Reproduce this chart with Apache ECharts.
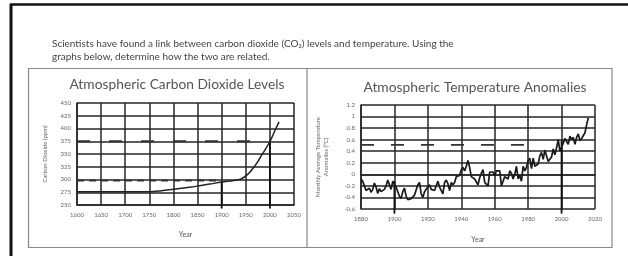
<!DOCTYPE html>
<html>
<head>
<meta charset="utf-8">
<script src="https://cdn.jsdelivr.net/npm/echarts@6/dist/echarts.min.js"></script>
<style>html,body{margin:0;padding:0;background:#fff;}#c{width:628px;height:256px;}</style>
</head>
<body>
<div id="c"></div>
<script>
// ---- Data ----
const introLines = [
  'Scientists have found a link between carbon dioxide (CO\u2082) levels and temperature. Using the',
  'graphs below, determine how the two are related.'
];
const co2Title = 'Atmospheric Carbon Dioxide Levels';
const tempTitle = 'Atmospheric Temperature Anomalies';
const co2YName = 'Carbon Dioxide (ppm)';
const tempYName = 'Monthly Average Temperature\nAnomalies (\u00B0C)';
const xName = 'Year';

const co2Years  = [1600, 1650, 1700, 1750, 1775, 1800, 1825, 1850, 1875, 1900, 1925, 1940, 1954, 1965, 1975, 1981, 1990, 2002, 2010, 2019];
const co2Values = [ 276,  276,  276,  276,  278,  281,  284,  287,  291,  295,  298,  301,  310,  322,  335,  345,  358,  378,  395,  413];
const co2Axis = { min: 1600, max: 2050, step: 50, ymin: 250, ymax: 450, ystep: 25 };
const co2UpperGuide = [[1600, 375], [2000, 375]];
const co2LowerGuide = [[1600, 298], [1900, 298]];
const co2Marker1900 = [[1900, 296], [1900, 243]];
const co2Marker2000 = [[2000, 376], [2000, 243]];

const tempStartYear = 1880;
const tempValues = [
  -0.08,-0.12,-0.20,-0.28,-0.30,-0.24,-0.31,-0.26,-0.15,-0.22,
  -0.33,-0.25,-0.30,-0.28,-0.26,-0.20,-0.10,-0.13,-0.26,-0.12,
  -0.15,-0.22,-0.30,-0.38,-0.42,-0.30,-0.24,-0.38,-0.44,-0.46,
  -0.42,-0.44,-0.36,-0.34,-0.18,-0.14,-0.34,-0.40,-0.30,-0.26,
  -0.28,-0.18,-0.26,-0.24,-0.28,-0.20,-0.12,-0.22,-0.20,-0.34,
  -0.14,-0.10,-0.16,-0.28,-0.14,-0.18,-0.14,-0.04,-0.02,-0.02,
   0.08, 0.12, 0.06, 0.14, 0.24, 0.12,-0.04,-0.06,-0.08,-0.10,
  -0.18,-0.06, 0.02, 0.08,-0.14,-0.16,-0.20, 0.04, 0.06, 0.04,
  -0.02, 0.06, 0.04, 0.06,-0.20,-0.12,-0.04,-0.02,-0.08, 0.06,
   0.02,-0.08, 0.00, 0.14,-0.08,-0.02,-0.12, 0.14, 0.06, 0.12,
   0.24, 0.28, 0.10, 0.28, 0.14, 0.12, 0.18, 0.32, 0.38, 0.26,
   0.42, 0.40, 0.22, 0.24, 0.30, 0.44, 0.34, 0.46, 0.60, 0.40,
   0.42, 0.54, 0.62, 0.60, 0.52, 0.66, 0.60, 0.64, 0.52, 0.64,
   0.70, 0.58, 0.62, 0.64, 0.72, 0.86, 0.98
];
const tempAxis = { min: 1880, max: 2020, step: 20, ymin: -0.6, ymax: 1.2, ystep: 0.2 };
const tempGuide = [[1880, 0.51], [1983, 0.51]];
const tempMarker1900 = [[1900, -0.12], [1900, -0.68]];
const tempMarker2000 = [[2000, 0.58], [2000, -0.68]];

// ---- Build ----
const tempData = tempValues.map((v, i) => [tempStartYear + i, v]);
const co2Data = co2Years.map((y, i) => [y, co2Values[i]]);

const FONT = 'Lato';
const GRID = '#262626';
const TXT = '#555';

function xAxisCfg(gi, ax) {
  return {
    type: 'value', gridIndex: gi, min: ax.min, max: ax.max, interval: ax.step,
    name: xName, nameLocation: 'middle', nameGap: gi === 0 ? 26 : 27,
    nameTextStyle: { fontFamily: FONT, fontSize: 7, color: TXT },
    axisLine: { show: true, lineStyle: { color: GRID, width: 1.5 } },
    axisTick: { show: false },
    splitLine: { show: true, lineStyle: { color: GRID, width: 1.5 } },
    axisLabel: { fontFamily: FONT, fontSize: 6, color: '#666', margin: 7, formatter: v => String(v) }
  };
}
function yAxisCfg(gi, ax, name, gap, fmt) {
  return {
    type: 'value', gridIndex: gi, min: ax.ymin, max: ax.ymax, interval: ax.ystep,
    name: name, nameLocation: 'middle', nameGap: gap, nameRotate: 90,
    nameTextStyle: { fontFamily: FONT, fontSize: 6, color: '#666', lineHeight: 8 },
    axisLine: { show: true, lineStyle: { color: GRID, width: 1.5 } },
    axisTick: { show: false },
    splitLine: { show: true, lineStyle: { color: GRID, width: 1.5 } },
    axisLabel: { fontFamily: FONT, fontSize: 6, color: '#666', margin: 6, formatter: fmt }
  };
}
function guide(xi, data, color, width, dash, z) {
  return {
    type: 'line', xAxisIndex: xi, yAxisIndex: xi, data: data, symbol: 'none', silent: true,
    clip: false, z: z || 3, animation: false,
    lineStyle: { color: color, width: width, type: dash || 'solid' }
  };
}

const chart = echarts.init(document.getElementById('c'), null, { renderer: 'canvas' });
chart.setOption({
  animation: false,
  backgroundColor: '#fff',
  title: [
    { text: introLines.join('\n'), left: 47, top: 32,
      textStyle: { fontFamily: FONT, fontSize: 10, fontWeight: 'normal', color: '#444', lineHeight: 13 } },
    { text: co2Title, left: 172, top: 73, textAlign: 'center',
      textStyle: { fontFamily: FONT, fontSize: 13.8, fontWeight: 'normal', color: '#555' } },
    { text: tempTitle, left: 470, top: 76, textAlign: 'center',
      textStyle: { fontFamily: FONT, fontSize: 13.8, fontWeight: 'normal', color: '#555' } }
  ],
  graphic: [
    { type: 'line', shape: { x1: 10, y1: 4.5, x2: 628, y2: 4.5 }, style: { stroke: '#111', lineWidth: 2.5 } },
    { type: 'line', shape: { x1: 11, y1: 4, x2: 11, y2: 256 }, style: { stroke: '#111', lineWidth: 3 } },
    { type: 'rect', shape: { x: 28.5, y: 68.5, width: 583.5, height: 179 }, style: { fill: 'none', stroke: '#888', lineWidth: 1.2 } },
    { type: 'line', shape: { x1: 307, y1: 68.5, x2: 307, y2: 247.5 }, style: { stroke: '#888', lineWidth: 1.2 } }
  ],
  grid: [
    { left: 77, top: 103, width: 217, height: 102 },
    { left: 361, top: 105, width: 234, height: 104 }
  ],
  xAxis: [ xAxisCfg(0, co2Axis), xAxisCfg(1, tempAxis) ],
  yAxis: [
    yAxisCfg(0, co2Axis, co2YName, 28, v => String(Math.round(v))),
    yAxisCfg(1, tempAxis, tempYName, 31, v => { const r = Math.round(v * 10) / 10; return String(r); })
  ],
  series: [
    { type: 'line', xAxisIndex: 0, yAxisIndex: 0, data: co2Data, symbol: 'none', smooth: 0.35,
      lineStyle: { color: '#222', width: 1.5 }, z: 4 },
    guide(0, co2UpperGuide, '#333', 1.8, [13, 19]),
    guide(0, co2LowerGuide, '#333', 2.2, [7, 5]),
    guide(0, co2Marker1900, '#111', 1.8, 'solid'),
    guide(0, co2Marker2000, '#111', 1.8, 'solid'),
    { type: 'line', xAxisIndex: 1, yAxisIndex: 1, data: tempData, symbol: 'none',
      lineStyle: { color: '#1a1a1a', width: 1.7 }, z: 4 },
    guide(1, tempGuide, '#333', 1.8, [13, 17]),
    guide(1, tempMarker1900, '#111', 1.8, 'solid'),
    guide(1, tempMarker2000, '#111', 1.8, 'solid')
  ]
});
</script>
</body>
</html>
